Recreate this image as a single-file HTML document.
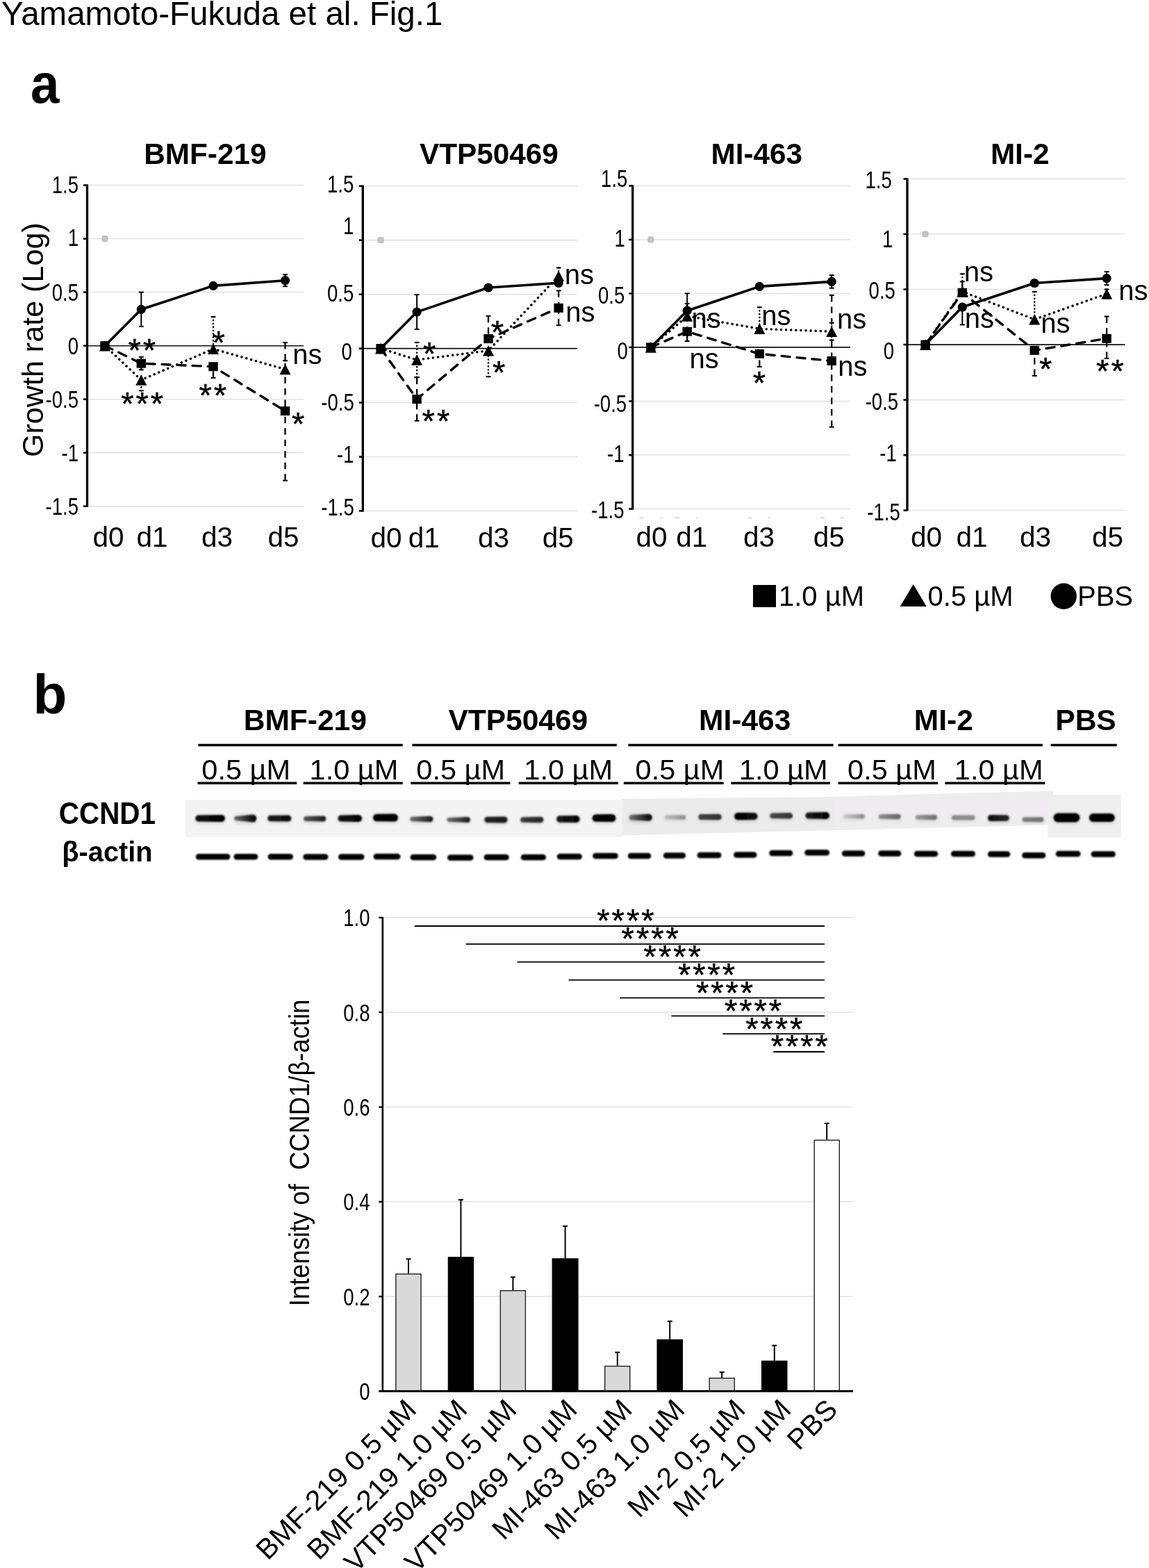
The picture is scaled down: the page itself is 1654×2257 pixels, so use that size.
<!DOCTYPE html>
<html><head><meta charset="utf-8"><title>Yamamoto-Fukuda et al. Fig.1</title>
<style>
html,body{margin:0;padding:0;background:#fff;}
body{width:1654px;height:2257px;overflow:hidden;}
svg{display:block;}
text{font-family:"Liberation Sans",Arial,sans-serif;fill:#000;}
</style></head>
<body>
<svg width="1654" height="2257" viewBox="0 0 1654 2257">
<rect width="1654" height="2257" fill="#fff"/>
<text x="2.0" y="35.5" font-size="47.5" text-anchor="start" >Yamamoto-Fukuda et al. Fig.1</text>
<text transform="translate(44,148) scale(0.93,1)" font-size="80" font-weight="bold">a</text>
<text transform="translate(47.5,1027) scale(1,1)" font-size="80" font-weight="bold">b</text>
<line x1="127.5" y1="266.6" x2="437" y2="266.6" stroke="#e3e1e3" stroke-width="1.5"/>
<line x1="127.5" y1="343.6" x2="437" y2="343.6" stroke="#e3e1e3" stroke-width="1.5"/>
<line x1="127.5" y1="420.6" x2="437" y2="420.6" stroke="#e3e1e3" stroke-width="1.5"/>
<line x1="127.5" y1="574.7" x2="437" y2="574.7" stroke="#e3e1e3" stroke-width="1.5"/>
<line x1="127.5" y1="651.7" x2="437" y2="651.7" stroke="#e3e1e3" stroke-width="1.5"/>
<line x1="127.5" y1="728.7" x2="437" y2="728.7" stroke="#e3e1e3" stroke-width="1.5"/>
<line x1="125.5" y1="497.7" x2="437" y2="497.7" stroke="#111" stroke-width="1.6"/>
<line x1="125.5" y1="265.6" x2="125.5" y2="729.7" stroke="#000" stroke-width="3.3"/>
<line x1="120.0" y1="266.6" x2="125.5" y2="266.6" stroke="#000" stroke-width="2.6"/>
<text transform="translate(113.0,278.4) scale(0.778,1)" font-size="35.4" text-anchor="end" >1.5</text>
<line x1="120.0" y1="343.6" x2="125.5" y2="343.6" stroke="#000" stroke-width="2.6"/>
<text transform="translate(113.0,354.3) scale(0.778,1)" font-size="35.4" text-anchor="end" >1</text>
<line x1="120.0" y1="420.6" x2="125.5" y2="420.6" stroke="#000" stroke-width="2.6"/>
<text transform="translate(113.0,433.0) scale(0.778,1)" font-size="35.4" text-anchor="end" >0.5</text>
<line x1="120.0" y1="497.7" x2="125.5" y2="497.7" stroke="#000" stroke-width="2.6"/>
<text transform="translate(113.0,510.1) scale(0.778,1)" font-size="35.4" text-anchor="end" >0</text>
<line x1="120.0" y1="574.7" x2="125.5" y2="574.7" stroke="#000" stroke-width="2.6"/>
<text transform="translate(113.0,587.1) scale(0.778,1)" font-size="35.4" text-anchor="end" >-0.5</text>
<line x1="120.0" y1="651.7" x2="125.5" y2="651.7" stroke="#000" stroke-width="2.6"/>
<text transform="translate(113.0,664.1) scale(0.778,1)" font-size="35.4" text-anchor="end" >-1</text>
<line x1="120.0" y1="728.7" x2="125.5" y2="728.7" stroke="#000" stroke-width="2.6"/>
<text transform="translate(113.0,741.1) scale(0.778,1)" font-size="35.4" text-anchor="end" >-1.5</text>
<text x="295.4" y="235.8" font-size="42.3" font-weight="bold" text-anchor="middle" >BMF-219</text>
<rect x="147.0" y="339.6" width="8" height="8" rx="2" fill="#c4c4c4" stroke="#b8aca4" stroke-width="0.8"/>
<path d="M151.0,497.7 L203.3,523.1 L307.0,527.7 L410.5,591.6" fill="none" stroke="#000" stroke-width="3.4" stroke-dasharray="12 10" stroke-linecap="round" stroke-linejoin="round"/>
<line x1="203.3" y1="513.8" x2="203.3" y2="523.1" stroke="#000" stroke-width="2.3" stroke-dasharray="9.5 7"/>
<line x1="199.8" y1="513.8" x2="206.8" y2="513.8" stroke="#000" stroke-width="2"/>
<line x1="203.3" y1="532.3" x2="203.3" y2="523.1" stroke="#000" stroke-width="2.3" stroke-dasharray="9.5 7"/>
<line x1="199.8" y1="532.3" x2="206.8" y2="532.3" stroke="#000" stroke-width="2"/>
<line x1="307.0" y1="543.9" x2="307.0" y2="527.7" stroke="#000" stroke-width="2.3" stroke-dasharray="9.5 7"/>
<line x1="303.5" y1="543.9" x2="310.5" y2="543.9" stroke="#000" stroke-width="2"/>
<line x1="410.5" y1="493.0" x2="410.5" y2="591.6" stroke="#000" stroke-width="2.3" stroke-dasharray="9.5 7"/>
<line x1="407.0" y1="493.0" x2="414.0" y2="493.0" stroke="#000" stroke-width="2"/>
<line x1="410.5" y1="691.7" x2="410.5" y2="591.6" stroke="#000" stroke-width="2.3" stroke-dasharray="9.5 7"/>
<line x1="407.0" y1="691.7" x2="414.0" y2="691.7" stroke="#000" stroke-width="2"/>
<path d="M151.0,497.7 L203.3,546.9 L307.0,502.3 L410.5,531.5" fill="none" stroke="#000" stroke-width="3.5" stroke-dasharray="0.1 7" stroke-linecap="round" stroke-linejoin="round"/>
<line x1="203.3" y1="562.3" x2="203.3" y2="546.9" stroke="#000" stroke-width="2.6" stroke-dasharray="0.1 4.8" stroke-linecap="round"/>
<line x1="199.8" y1="562.3" x2="206.8" y2="562.3" stroke="#000" stroke-width="2"/>
<line x1="307.0" y1="456.1" x2="307.0" y2="502.3" stroke="#000" stroke-width="2.6" stroke-dasharray="0.1 4.8" stroke-linecap="round"/>
<line x1="303.5" y1="456.1" x2="310.5" y2="456.1" stroke="#000" stroke-width="2"/>
<line x1="410.5" y1="519.2" x2="410.5" y2="531.5" stroke="#000" stroke-width="2.6" stroke-dasharray="0.1 4.8" stroke-linecap="round"/>
<line x1="407.0" y1="519.2" x2="414.0" y2="519.2" stroke="#000" stroke-width="2"/>
<path d="M151.0,497.7 L203.3,445.3 L307.0,411.4 L410.5,403.7" fill="none" stroke="#000" stroke-width="3.6" stroke-linejoin="round"/>
<line x1="203.3" y1="420.6" x2="203.3" y2="445.3" stroke="#000" stroke-width="2.0"/>
<line x1="199.8" y1="420.6" x2="206.8" y2="420.6" stroke="#000" stroke-width="2"/>
<line x1="203.3" y1="469.9" x2="203.3" y2="445.3" stroke="#000" stroke-width="2.0"/>
<line x1="199.8" y1="469.9" x2="206.8" y2="469.9" stroke="#000" stroke-width="2"/>
<line x1="307.0" y1="408.3" x2="307.0" y2="411.4" stroke="#000" stroke-width="2.0"/>
<line x1="303.5" y1="408.3" x2="310.5" y2="408.3" stroke="#000" stroke-width="2"/>
<line x1="307.0" y1="414.5" x2="307.0" y2="411.4" stroke="#000" stroke-width="2.0"/>
<line x1="303.5" y1="414.5" x2="310.5" y2="414.5" stroke="#000" stroke-width="2"/>
<line x1="410.5" y1="395.2" x2="410.5" y2="403.7" stroke="#000" stroke-width="2.0"/>
<line x1="407.0" y1="395.2" x2="414.0" y2="395.2" stroke="#000" stroke-width="2"/>
<line x1="410.5" y1="412.2" x2="410.5" y2="403.7" stroke="#000" stroke-width="2.0"/>
<line x1="407.0" y1="412.2" x2="414.0" y2="412.2" stroke="#000" stroke-width="2"/>
<rect x="144.3" y="491.2" width="13.4" height="13" fill="#000"/>
<rect x="196.6" y="516.6" width="13.4" height="13" fill="#000"/>
<rect x="300.3" y="521.2" width="13.4" height="13" fill="#000"/>
<rect x="403.8" y="585.1" width="13.4" height="13" fill="#000"/>
<path d="M151.0,489.9 L159.0,505.5 L143.0,505.5 Z" fill="#000"/>
<path d="M203.3,539.1 L211.3,554.7 L195.3,554.7 Z" fill="#000"/>
<path d="M307.0,494.5 L315.0,510.1 L299.0,510.1 Z" fill="#000"/>
<path d="M410.5,523.7 L418.5,539.3 L402.5,539.3 Z" fill="#000"/>
<circle cx="151.0" cy="497.7" r="6.6" fill="#000"/>
<circle cx="203.3" cy="445.3" r="6.6" fill="#000"/>
<circle cx="307.0" cy="411.4" r="6.6" fill="#000"/>
<circle cx="410.5" cy="403.7" r="6.6" fill="#000"/>
<text x="184.5" y="520.2" font-size="47" letter-spacing="3" stroke="#000" stroke-width="0.5">**</text>
<text x="174.2" y="597.2" font-size="47" letter-spacing="3" stroke="#000" stroke-width="0.5">***</text>
<text x="305.5" y="509.1" font-size="47" letter-spacing="3" stroke="#000" stroke-width="0.5">*</text>
<text x="286.5" y="584.8" font-size="47" letter-spacing="3" stroke="#000" stroke-width="0.5">**</text>
<text x="421.2" y="524.1" font-size="40" text-anchor="start" >ns</text>
<text x="419.9" y="625.6" font-size="47" letter-spacing="3" stroke="#000" stroke-width="0.5">*</text>
<line x1="524.3" y1="267.8" x2="831" y2="267.8" stroke="#e3e1e3" stroke-width="1.5"/>
<line x1="524.3" y1="345.7" x2="831" y2="345.7" stroke="#e3e1e3" stroke-width="1.5"/>
<line x1="524.3" y1="423.7" x2="831" y2="423.7" stroke="#e3e1e3" stroke-width="1.5"/>
<line x1="524.3" y1="579.5" x2="831" y2="579.5" stroke="#e3e1e3" stroke-width="1.5"/>
<line x1="524.3" y1="657.5" x2="831" y2="657.5" stroke="#e3e1e3" stroke-width="1.5"/>
<line x1="524.3" y1="735.4" x2="831" y2="735.4" stroke="#e3e1e3" stroke-width="1.5"/>
<line x1="522.3" y1="501.6" x2="831" y2="501.6" stroke="#111" stroke-width="1.6"/>
<line x1="522.3" y1="266.8" x2="522.3" y2="736.4" stroke="#000" stroke-width="3.3"/>
<line x1="516.8" y1="267.8" x2="522.3" y2="267.8" stroke="#000" stroke-width="2.6"/>
<text transform="translate(509.3,277.4) scale(0.778,1)" font-size="35.4" text-anchor="end" >1.5</text>
<line x1="516.8" y1="345.7" x2="522.3" y2="345.7" stroke="#000" stroke-width="2.6"/>
<text transform="translate(509.3,337.1) scale(0.778,1)" font-size="35.4" text-anchor="end" >1</text>
<line x1="516.8" y1="423.7" x2="522.3" y2="423.7" stroke="#000" stroke-width="2.6"/>
<text transform="translate(509.3,433.9) scale(0.778,1)" font-size="35.4" text-anchor="end" >0.5</text>
<line x1="516.8" y1="501.6" x2="522.3" y2="501.6" stroke="#000" stroke-width="2.6"/>
<text transform="translate(506.8,517.8) scale(0.778,1)" font-size="35.4" text-anchor="end" >0</text>
<line x1="516.8" y1="579.5" x2="522.3" y2="579.5" stroke="#000" stroke-width="2.6"/>
<text transform="translate(509.8,590.7) scale(0.778,1)" font-size="35.4" text-anchor="end" >-0.5</text>
<line x1="516.8" y1="657.5" x2="522.3" y2="657.5" stroke="#000" stroke-width="2.6"/>
<text transform="translate(509.2,666.0) scale(0.778,1)" font-size="35.4" text-anchor="end" >-1</text>
<line x1="516.8" y1="735.4" x2="522.3" y2="735.4" stroke="#000" stroke-width="2.6"/>
<text transform="translate(509.8,741.8) scale(0.778,1)" font-size="35.4" text-anchor="end" >-1.5</text>
<text x="703.9" y="235.8" font-size="42.3" font-weight="bold" text-anchor="middle" >VTP50469</text>
<rect x="544.1" y="341.7" width="8" height="8" rx="2" fill="#c4c4c4" stroke="#b8aca4" stroke-width="0.8"/>
<path d="M548.1,501.6 L600.1,574.5 L703.0,487.6 L804.1,443.3" fill="none" stroke="#000" stroke-width="3.4" stroke-dasharray="12 10" stroke-linecap="round" stroke-linejoin="round"/>
<line x1="600.1" y1="543.4" x2="600.1" y2="574.5" stroke="#000" stroke-width="2.3" stroke-dasharray="9.5 7"/>
<line x1="596.6" y1="543.4" x2="603.6" y2="543.4" stroke="#000" stroke-width="2"/>
<line x1="600.1" y1="605.7" x2="600.1" y2="574.5" stroke="#000" stroke-width="2.3" stroke-dasharray="9.5 7"/>
<line x1="596.6" y1="605.7" x2="603.6" y2="605.7" stroke="#000" stroke-width="2"/>
<line x1="703.0" y1="454.8" x2="703.0" y2="487.6" stroke="#000" stroke-width="2.3" stroke-dasharray="9.5 7"/>
<line x1="699.5" y1="454.8" x2="706.5" y2="454.8" stroke="#000" stroke-width="2"/>
<line x1="804.1" y1="418.4" x2="804.1" y2="443.3" stroke="#000" stroke-width="2.3" stroke-dasharray="9.5 7"/>
<line x1="800.6" y1="418.4" x2="807.6" y2="418.4" stroke="#000" stroke-width="2"/>
<line x1="804.1" y1="468.2" x2="804.1" y2="443.3" stroke="#000" stroke-width="2.3" stroke-dasharray="9.5 7"/>
<line x1="800.6" y1="468.2" x2="807.6" y2="468.2" stroke="#000" stroke-width="2"/>
<path d="M548.1,501.6 L600.1,518.0 L703.0,504.7 L804.1,397.2" fill="none" stroke="#000" stroke-width="3.5" stroke-dasharray="0.1 7" stroke-linecap="round" stroke-linejoin="round"/>
<line x1="600.1" y1="493.0" x2="600.1" y2="518.0" stroke="#000" stroke-width="2.6" stroke-dasharray="0.1 4.8" stroke-linecap="round"/>
<line x1="596.6" y1="493.0" x2="603.6" y2="493.0" stroke="#000" stroke-width="2"/>
<line x1="600.1" y1="542.9" x2="600.1" y2="518.0" stroke="#000" stroke-width="2.6" stroke-dasharray="0.1 4.8" stroke-linecap="round"/>
<line x1="596.6" y1="542.9" x2="603.6" y2="542.9" stroke="#000" stroke-width="2"/>
<line x1="703.0" y1="542.1" x2="703.0" y2="504.7" stroke="#000" stroke-width="2.6" stroke-dasharray="0.1 4.8" stroke-linecap="round"/>
<line x1="699.5" y1="542.1" x2="706.5" y2="542.1" stroke="#000" stroke-width="2"/>
<line x1="804.1" y1="385.5" x2="804.1" y2="397.2" stroke="#000" stroke-width="2.6" stroke-dasharray="0.1 4.8" stroke-linecap="round"/>
<line x1="800.6" y1="385.5" x2="807.6" y2="385.5" stroke="#000" stroke-width="2"/>
<line x1="804.1" y1="408.9" x2="804.1" y2="397.2" stroke="#000" stroke-width="2.6" stroke-dasharray="0.1 4.8" stroke-linecap="round"/>
<line x1="800.6" y1="408.9" x2="807.6" y2="408.9" stroke="#000" stroke-width="2"/>
<path d="M548.1,501.6 L600.1,449.1 L703.0,414.0 L804.1,407.3" fill="none" stroke="#000" stroke-width="3.6" stroke-linejoin="round"/>
<line x1="600.1" y1="424.1" x2="600.1" y2="449.1" stroke="#000" stroke-width="2.0"/>
<line x1="596.6" y1="424.1" x2="603.6" y2="424.1" stroke="#000" stroke-width="2"/>
<line x1="600.1" y1="474.0" x2="600.1" y2="449.1" stroke="#000" stroke-width="2.0"/>
<line x1="596.6" y1="474.0" x2="603.6" y2="474.0" stroke="#000" stroke-width="2"/>
<line x1="703.0" y1="410.9" x2="703.0" y2="414.0" stroke="#000" stroke-width="2.0"/>
<line x1="699.5" y1="410.9" x2="706.5" y2="410.9" stroke="#000" stroke-width="2"/>
<line x1="703.0" y1="417.1" x2="703.0" y2="414.0" stroke="#000" stroke-width="2.0"/>
<line x1="699.5" y1="417.1" x2="706.5" y2="417.1" stroke="#000" stroke-width="2"/>
<line x1="804.1" y1="402.6" x2="804.1" y2="407.3" stroke="#000" stroke-width="2.0"/>
<line x1="800.6" y1="402.6" x2="807.6" y2="402.6" stroke="#000" stroke-width="2"/>
<line x1="804.1" y1="412.0" x2="804.1" y2="407.3" stroke="#000" stroke-width="2.0"/>
<line x1="800.6" y1="412.0" x2="807.6" y2="412.0" stroke="#000" stroke-width="2"/>
<rect x="541.4" y="495.1" width="13.4" height="13" fill="#000"/>
<rect x="593.4" y="568.0" width="13.4" height="13" fill="#000"/>
<rect x="696.3" y="481.1" width="13.4" height="13" fill="#000"/>
<rect x="797.4" y="436.8" width="13.4" height="13" fill="#000"/>
<path d="M548.1,493.8 L556.1,509.4 L540.1,509.4 Z" fill="#000"/>
<path d="M600.1,510.2 L608.1,525.8 L592.1,525.8 Z" fill="#000"/>
<path d="M703.0,496.9 L711.0,512.5 L695.0,512.5 Z" fill="#000"/>
<path d="M804.1,389.4 L812.1,405.0 L796.1,405.0 Z" fill="#000"/>
<circle cx="548.1" cy="501.6" r="6.6" fill="#000"/>
<circle cx="600.1" cy="449.1" r="6.6" fill="#000"/>
<circle cx="703.0" cy="414.0" r="6.6" fill="#000"/>
<circle cx="804.1" cy="407.3" r="6.6" fill="#000"/>
<text x="608.9" y="525.2" font-size="47" letter-spacing="3" stroke="#000" stroke-width="0.5">*</text>
<text x="607.6" y="621.9" font-size="47" letter-spacing="3" stroke="#000" stroke-width="0.5">**</text>
<text x="706.7" y="494.2" font-size="47" letter-spacing="3" stroke="#000" stroke-width="0.5">*</text>
<text x="709.1" y="552.2" font-size="47" letter-spacing="3" stroke="#000" stroke-width="0.5">*</text>
<text x="812.7" y="408.6" font-size="40" text-anchor="start" >ns</text>
<text x="814.3" y="463.2" font-size="40" text-anchor="start" >ns</text>
<line x1="912.7" y1="267.4" x2="1224" y2="267.4" stroke="#e3e1e3" stroke-width="1.5"/>
<line x1="912.7" y1="344.9" x2="1224" y2="344.9" stroke="#e3e1e3" stroke-width="1.5"/>
<line x1="912.7" y1="422.4" x2="1224" y2="422.4" stroke="#e3e1e3" stroke-width="1.5"/>
<line x1="912.7" y1="577.5" x2="1224" y2="577.5" stroke="#e3e1e3" stroke-width="1.5"/>
<line x1="912.7" y1="655.0" x2="1224" y2="655.0" stroke="#e3e1e3" stroke-width="1.5"/>
<line x1="912.7" y1="732.5" x2="1224" y2="732.5" stroke="#e3e1e3" stroke-width="1.5"/>
<line x1="910.7" y1="499.9" x2="1224" y2="499.9" stroke="#111" stroke-width="1.6"/>
<line x1="910.7" y1="266.4" x2="910.7" y2="733.5" stroke="#000" stroke-width="3.3"/>
<line x1="905.2" y1="267.4" x2="910.7" y2="267.4" stroke="#000" stroke-width="2.6"/>
<text transform="translate(903.4,269.2) scale(0.778,1)" font-size="35.4" text-anchor="end" >1.5</text>
<line x1="905.2" y1="344.9" x2="910.7" y2="344.9" stroke="#000" stroke-width="2.6"/>
<text transform="translate(899.9,354.7) scale(0.778,1)" font-size="35.4" text-anchor="end" >1</text>
<line x1="905.2" y1="422.4" x2="910.7" y2="422.4" stroke="#000" stroke-width="2.6"/>
<text transform="translate(899.3,437.1) scale(0.778,1)" font-size="35.4" text-anchor="end" >0.5</text>
<line x1="905.2" y1="499.9" x2="910.7" y2="499.9" stroke="#000" stroke-width="2.6"/>
<text transform="translate(903.9,517.4) scale(0.778,1)" font-size="35.4" text-anchor="end" >0</text>
<line x1="905.2" y1="577.5" x2="910.7" y2="577.5" stroke="#000" stroke-width="2.6"/>
<text transform="translate(902.1,592.9) scale(0.778,1)" font-size="35.4" text-anchor="end" >-0.5</text>
<line x1="905.2" y1="655.0" x2="910.7" y2="655.0" stroke="#000" stroke-width="2.6"/>
<text transform="translate(898.5,665.4) scale(0.778,1)" font-size="35.4" text-anchor="end" >-1</text>
<line x1="905.2" y1="732.5" x2="910.7" y2="732.5" stroke="#000" stroke-width="2.6"/>
<text transform="translate(898.5,745.9) scale(0.778,1)" font-size="35.4" text-anchor="end" >-1.5</text>
<text x="1089.3" y="235.8" font-size="42.3" font-weight="bold" text-anchor="middle" >MI-463</text>
<rect x="932.8" y="340.9" width="8" height="8" rx="2" fill="#c4c4c4" stroke="#b8aca4" stroke-width="0.8"/>
<path d="M936.8,499.9 L989.2,477.2 L1093.3,509.3 L1197.2,519.5" fill="none" stroke="#000" stroke-width="3.4" stroke-dasharray="12 10" stroke-linecap="round" stroke-linejoin="round"/>
<line x1="989.2" y1="436.9" x2="989.2" y2="477.2" stroke="#000" stroke-width="2.3" stroke-dasharray="9.5 7"/>
<line x1="985.7" y1="436.9" x2="992.7" y2="436.9" stroke="#000" stroke-width="2"/>
<line x1="989.2" y1="491.1" x2="989.2" y2="477.2" stroke="#000" stroke-width="2.3" stroke-dasharray="9.5 7"/>
<line x1="985.7" y1="491.1" x2="992.7" y2="491.1" stroke="#000" stroke-width="2"/>
<line x1="1093.3" y1="527.9" x2="1093.3" y2="509.3" stroke="#000" stroke-width="2.3" stroke-dasharray="9.5 7"/>
<line x1="1089.8" y1="527.9" x2="1096.8" y2="527.9" stroke="#000" stroke-width="2"/>
<line x1="1197.2" y1="424.9" x2="1197.2" y2="519.5" stroke="#000" stroke-width="2.3" stroke-dasharray="9.5 7"/>
<line x1="1193.7" y1="424.9" x2="1200.7" y2="424.9" stroke="#000" stroke-width="2"/>
<line x1="1197.2" y1="614.7" x2="1197.2" y2="519.5" stroke="#000" stroke-width="2.3" stroke-dasharray="9.5 7"/>
<line x1="1193.7" y1="614.7" x2="1200.7" y2="614.7" stroke="#000" stroke-width="2"/>
<path d="M936.8,499.9 L989.2,455.0 L1093.3,473.3 L1197.2,477.2" fill="none" stroke="#000" stroke-width="3.5" stroke-dasharray="0.1 7" stroke-linecap="round" stroke-linejoin="round"/>
<line x1="1093.3" y1="442.3" x2="1093.3" y2="473.3" stroke="#000" stroke-width="2.6" stroke-dasharray="0.1 4.8" stroke-linecap="round"/>
<line x1="1089.8" y1="442.3" x2="1096.8" y2="442.3" stroke="#000" stroke-width="2"/>
<line x1="1197.2" y1="464.8" x2="1197.2" y2="477.2" stroke="#000" stroke-width="2.6" stroke-dasharray="0.1 4.8" stroke-linecap="round"/>
<line x1="1193.7" y1="464.8" x2="1200.7" y2="464.8" stroke="#000" stroke-width="2"/>
<line x1="1197.2" y1="489.6" x2="1197.2" y2="477.2" stroke="#000" stroke-width="2.6" stroke-dasharray="0.1 4.8" stroke-linecap="round"/>
<line x1="1193.7" y1="489.6" x2="1200.7" y2="489.6" stroke="#000" stroke-width="2"/>
<path d="M936.8,499.9 L989.2,447.2 L1093.3,412.4 L1197.2,405.4" fill="none" stroke="#000" stroke-width="3.6" stroke-linejoin="round"/>
<line x1="989.2" y1="422.4" x2="989.2" y2="447.2" stroke="#000" stroke-width="2.0"/>
<line x1="985.7" y1="422.4" x2="992.7" y2="422.4" stroke="#000" stroke-width="2"/>
<line x1="1093.3" y1="409.3" x2="1093.3" y2="412.4" stroke="#000" stroke-width="2.0"/>
<line x1="1089.8" y1="409.3" x2="1096.8" y2="409.3" stroke="#000" stroke-width="2"/>
<line x1="1093.3" y1="415.5" x2="1093.3" y2="412.4" stroke="#000" stroke-width="2.0"/>
<line x1="1089.8" y1="415.5" x2="1096.8" y2="415.5" stroke="#000" stroke-width="2"/>
<line x1="1197.2" y1="396.1" x2="1197.2" y2="405.4" stroke="#000" stroke-width="2.0"/>
<line x1="1193.7" y1="396.1" x2="1200.7" y2="396.1" stroke="#000" stroke-width="2"/>
<line x1="1197.2" y1="414.7" x2="1197.2" y2="405.4" stroke="#000" stroke-width="2.0"/>
<line x1="1193.7" y1="414.7" x2="1200.7" y2="414.7" stroke="#000" stroke-width="2"/>
<rect x="930.1" y="493.4" width="13.4" height="13" fill="#000"/>
<rect x="982.5" y="470.7" width="13.4" height="13" fill="#000"/>
<rect x="1086.6" y="502.8" width="13.4" height="13" fill="#000"/>
<rect x="1190.5" y="513.0" width="13.4" height="13" fill="#000"/>
<path d="M936.8,492.1 L944.8,507.8 L928.8,507.8 Z" fill="#000"/>
<path d="M989.2,447.2 L997.2,462.8 L981.2,462.8 Z" fill="#000"/>
<path d="M1093.3,465.5 L1101.3,481.1 L1085.3,481.1 Z" fill="#000"/>
<path d="M1197.2,469.4 L1205.2,485.0 L1189.2,485.0 Z" fill="#000"/>
<circle cx="936.8" cy="499.9" r="6.6" fill="#000"/>
<circle cx="989.2" cy="447.2" r="6.6" fill="#000"/>
<circle cx="1093.3" cy="412.4" r="6.6" fill="#000"/>
<circle cx="1197.2" cy="405.4" r="6.6" fill="#000"/>
<text x="995.5" y="472.3" font-size="40" text-anchor="start" >ns</text>
<text x="992.4" y="529.6" font-size="40" text-anchor="start" >ns</text>
<text x="1096.2" y="468.0" font-size="40" text-anchor="start" >ns</text>
<text x="1083.8" y="566.9" font-size="47" letter-spacing="3" stroke="#000" stroke-width="0.5">*</text>
<text x="1204.9" y="473.2" font-size="40" text-anchor="start" >ns</text>
<text x="1206.2" y="540.8" font-size="40" text-anchor="start" >ns</text>
<line x1="1308.0" y1="257.5" x2="1619.5" y2="257.5" stroke="#e3e1e3" stroke-width="1.5"/>
<line x1="1308.0" y1="337.0" x2="1619.5" y2="337.0" stroke="#e3e1e3" stroke-width="1.5"/>
<line x1="1308.0" y1="416.5" x2="1619.5" y2="416.5" stroke="#e3e1e3" stroke-width="1.5"/>
<line x1="1308.0" y1="575.6" x2="1619.5" y2="575.6" stroke="#e3e1e3" stroke-width="1.5"/>
<line x1="1308.0" y1="655.1" x2="1619.5" y2="655.1" stroke="#e3e1e3" stroke-width="1.5"/>
<line x1="1308.0" y1="734.6" x2="1619.5" y2="734.6" stroke="#e3e1e3" stroke-width="1.5"/>
<line x1="1306.0" y1="496.1" x2="1619.5" y2="496.1" stroke="#111" stroke-width="1.6"/>
<line x1="1306.0" y1="256.5" x2="1306.0" y2="735.6" stroke="#000" stroke-width="3.3"/>
<line x1="1300.5" y1="257.5" x2="1306.0" y2="257.5" stroke="#000" stroke-width="2.6"/>
<text transform="translate(1283.8,270.9) scale(0.778,1)" font-size="35.4" text-anchor="end" >1.5</text>
<line x1="1300.5" y1="337.0" x2="1306.0" y2="337.0" stroke="#000" stroke-width="2.6"/>
<text transform="translate(1285.3,356.4) scale(0.778,1)" font-size="35.4" text-anchor="end" >1</text>
<line x1="1300.5" y1="416.5" x2="1306.0" y2="416.5" stroke="#000" stroke-width="2.6"/>
<text transform="translate(1288.9,429.9) scale(0.778,1)" font-size="35.4" text-anchor="end" >0.5</text>
<line x1="1300.5" y1="496.1" x2="1306.0" y2="496.1" stroke="#000" stroke-width="2.6"/>
<text transform="translate(1287.1,516.9) scale(0.778,1)" font-size="35.4" text-anchor="end" >0</text>
<line x1="1300.5" y1="575.6" x2="1306.0" y2="575.6" stroke="#000" stroke-width="2.6"/>
<text transform="translate(1293.1,589.7) scale(0.778,1)" font-size="35.4" text-anchor="end" >-0.5</text>
<line x1="1300.5" y1="655.1" x2="1306.0" y2="655.1" stroke="#000" stroke-width="2.6"/>
<text transform="translate(1290.7,664.2) scale(0.778,1)" font-size="35.4" text-anchor="end" >-1</text>
<line x1="1300.5" y1="734.6" x2="1306.0" y2="734.6" stroke="#000" stroke-width="2.6"/>
<text transform="translate(1295.8,749.0) scale(0.778,1)" font-size="35.4" text-anchor="end" >-1.5</text>
<text x="1468.2" y="235.8" font-size="42.3" font-weight="bold" text-anchor="middle" >MI-2</text>
<rect x="1328.1" y="333.0" width="8" height="8" rx="2" fill="#c4c4c4" stroke="#b8aca4" stroke-width="0.8"/>
<path d="M1332.1,496.1 L1385.3,421.3 L1489.2,504.3 L1593.1,487.3" fill="none" stroke="#000" stroke-width="3.4" stroke-dasharray="12 10" stroke-linecap="round" stroke-linejoin="round"/>
<line x1="1385.3" y1="405.4" x2="1385.3" y2="421.3" stroke="#000" stroke-width="2.3" stroke-dasharray="9.5 7"/>
<line x1="1381.8" y1="405.4" x2="1388.8" y2="405.4" stroke="#000" stroke-width="2"/>
<line x1="1489.2" y1="540.9" x2="1489.2" y2="504.3" stroke="#000" stroke-width="2.3" stroke-dasharray="9.5 7"/>
<line x1="1485.7" y1="540.9" x2="1492.7" y2="540.9" stroke="#000" stroke-width="2"/>
<line x1="1593.1" y1="455.5" x2="1593.1" y2="487.3" stroke="#000" stroke-width="2.3" stroke-dasharray="9.5 7"/>
<line x1="1589.6" y1="455.5" x2="1596.6" y2="455.5" stroke="#000" stroke-width="2"/>
<line x1="1593.1" y1="515.9" x2="1593.1" y2="487.3" stroke="#000" stroke-width="2.3" stroke-dasharray="9.5 7"/>
<line x1="1589.6" y1="515.9" x2="1596.6" y2="515.9" stroke="#000" stroke-width="2"/>
<path d="M1332.1,496.1 L1385.3,419.7 L1489.2,459.8 L1593.1,422.9" fill="none" stroke="#000" stroke-width="3.5" stroke-dasharray="0.1 7" stroke-linecap="round" stroke-linejoin="round"/>
<line x1="1385.3" y1="394.3" x2="1385.3" y2="419.7" stroke="#000" stroke-width="2.6" stroke-dasharray="0.1 4.8" stroke-linecap="round"/>
<line x1="1381.8" y1="394.3" x2="1388.8" y2="394.3" stroke="#000" stroke-width="2"/>
<line x1="1489.2" y1="420.0" x2="1489.2" y2="459.8" stroke="#000" stroke-width="2.6" stroke-dasharray="0.1 4.8" stroke-linecap="round"/>
<line x1="1485.7" y1="420.0" x2="1492.7" y2="420.0" stroke="#000" stroke-width="2"/>
<line x1="1593.1" y1="416.5" x2="1593.1" y2="422.9" stroke="#000" stroke-width="2.6" stroke-dasharray="0.1 4.8" stroke-linecap="round"/>
<line x1="1589.6" y1="416.5" x2="1596.6" y2="416.5" stroke="#000" stroke-width="2"/>
<path d="M1332.1,496.1 L1385.3,442.0 L1489.2,407.5 L1593.1,400.6" fill="none" stroke="#000" stroke-width="3.6" stroke-linejoin="round"/>
<line x1="1385.3" y1="467.4" x2="1385.3" y2="442.0" stroke="#000" stroke-width="2.0"/>
<line x1="1381.8" y1="467.4" x2="1388.8" y2="467.4" stroke="#000" stroke-width="2"/>
<line x1="1489.2" y1="404.3" x2="1489.2" y2="407.5" stroke="#000" stroke-width="2.0"/>
<line x1="1485.7" y1="404.3" x2="1492.7" y2="404.3" stroke="#000" stroke-width="2"/>
<line x1="1489.2" y1="410.6" x2="1489.2" y2="407.5" stroke="#000" stroke-width="2.0"/>
<line x1="1485.7" y1="410.6" x2="1492.7" y2="410.6" stroke="#000" stroke-width="2"/>
<line x1="1593.1" y1="391.1" x2="1593.1" y2="400.6" stroke="#000" stroke-width="2.0"/>
<line x1="1589.6" y1="391.1" x2="1596.6" y2="391.1" stroke="#000" stroke-width="2"/>
<line x1="1593.1" y1="410.2" x2="1593.1" y2="400.6" stroke="#000" stroke-width="2.0"/>
<line x1="1589.6" y1="410.2" x2="1596.6" y2="410.2" stroke="#000" stroke-width="2"/>
<rect x="1325.4" y="489.6" width="13.4" height="13" fill="#000"/>
<rect x="1378.6" y="414.8" width="13.4" height="13" fill="#000"/>
<rect x="1482.5" y="497.8" width="13.4" height="13" fill="#000"/>
<rect x="1586.4" y="480.8" width="13.4" height="13" fill="#000"/>
<path d="M1332.1,488.2 L1340.1,503.9 L1324.1,503.9 Z" fill="#000"/>
<path d="M1385.3,411.9 L1393.3,427.5 L1377.3,427.5 Z" fill="#000"/>
<path d="M1489.2,452.0 L1497.2,467.6 L1481.2,467.6 Z" fill="#000"/>
<path d="M1593.1,415.1 L1601.1,430.7 L1585.1,430.7 Z" fill="#000"/>
<circle cx="1332.1" cy="496.1" r="6.6" fill="#000"/>
<circle cx="1385.3" cy="442.0" r="6.6" fill="#000"/>
<circle cx="1489.2" cy="407.5" r="6.6" fill="#000"/>
<circle cx="1593.1" cy="400.6" r="6.6" fill="#000"/>
<text x="1387.7" y="404.8" font-size="40" text-anchor="start" >ns</text>
<text x="1388.7" y="471.5" font-size="40" text-anchor="start" >ns</text>
<text x="1498.2" y="479.4" font-size="40" text-anchor="start" >ns</text>
<text x="1496.1" y="546.9" font-size="47" letter-spacing="3" stroke="#000" stroke-width="0.5">*</text>
<text x="1578.1" y="549.9" font-size="47" letter-spacing="3" stroke="#000" stroke-width="0.5">**</text>
<text x="1610.2" y="432.0" font-size="40" text-anchor="start" >ns</text>
<text x="133.6" y="786.5" font-size="40.5" text-anchor="start" >d0</text>
<text x="196.4" y="786.5" font-size="40.5" text-anchor="start" >d1</text>
<text x="290.0" y="786.5" font-size="40.5" text-anchor="start" >d3</text>
<text x="385.4" y="786.5" font-size="40.5" text-anchor="start" >d5</text>
<text x="533.6" y="788.0" font-size="40.5" text-anchor="start" >d0</text>
<text x="587.7" y="788.0" font-size="40.5" text-anchor="start" >d1</text>
<text x="688.0" y="788.0" font-size="40.5" text-anchor="start" >d3</text>
<text x="780.7" y="788.0" font-size="40.5" text-anchor="start" >d5</text>
<text x="915.6" y="786.5" font-size="40.5" text-anchor="start" >d0</text>
<text x="973.2" y="786.5" font-size="40.5" text-anchor="start" >d1</text>
<text x="1070.0" y="786.5" font-size="40.5" text-anchor="start" >d3</text>
<text x="1170.8" y="786.5" font-size="40.5" text-anchor="start" >d5</text>
<text x="1310.9" y="786.5" font-size="40.5" text-anchor="start" >d0</text>
<text x="1376.4" y="786.5" font-size="40.5" text-anchor="start" >d1</text>
<text x="1467.9" y="786.5" font-size="40.5" text-anchor="start" >d3</text>
<text x="1572.1" y="786.5" font-size="40.5" text-anchor="start" >d5</text>
<line x1="920.6" y1="745.4" x2="926.7" y2="745.4" stroke="#d6c6b4" stroke-width="1.2"/>
<line x1="950.4" y1="745.4" x2="953.5" y2="745.4" stroke="#d6c6b4" stroke-width="1.2"/>
<line x1="972" y1="745.4" x2="978.2" y2="745.4" stroke="#d6c6b4" stroke-width="1.2"/>
<line x1="1001.8" y1="745.4" x2="1003.9" y2="745.4" stroke="#d6c6b4" stroke-width="1.2"/>
<line x1="1077" y1="745.4" x2="1082" y2="745.4" stroke="#d6c6b4" stroke-width="1.2"/>
<line x1="1105.8" y1="745.4" x2="1108.8" y2="745.4" stroke="#d6c6b4" stroke-width="1.2"/>
<line x1="1180.9" y1="745.4" x2="1187" y2="745.4" stroke="#d6c6b4" stroke-width="1.2"/>
<line x1="1209.7" y1="745.4" x2="1214.8" y2="745.4" stroke="#d6c6b4" stroke-width="1.2"/>
<text transform="translate(62.3,658) rotate(-90)" font-size="43.1">Growth rate (Log)</text>
<rect x="1084" y="842" width="33" height="32" fill="#000"/>
<text x="1121.0" y="872.4" font-size="40" text-anchor="start" >1.0 µM</text>
<path d="M1314.7,841 L1333.7,873 L1295.7,873 Z" fill="#000"/>
<text x="1335.5" y="872.4" font-size="40" text-anchor="start" >0.5 µM</text>
<circle cx="1531.2" cy="858.2" r="18.7" fill="#000"/>
<text x="1551.0" y="872.4" font-size="40" text-anchor="start" >PBS</text>
<text x="439.3" y="1050.7" font-size="42.5" font-weight="bold" text-anchor="middle" >BMF-219</text>
<line x1="285.3" y1="1072.5" x2="579.7" y2="1072.5" stroke="#000" stroke-width="3.6"/>
<text x="745.8" y="1050.7" font-size="42.5" font-weight="bold" text-anchor="middle" >VTP50469</text>
<line x1="593.4" y1="1072.5" x2="887.8" y2="1072.5" stroke="#000" stroke-width="3.6"/>
<text x="1072.2" y="1050.7" font-size="42.5" font-weight="bold" text-anchor="middle" >MI-463</text>
<line x1="904.4" y1="1072.5" x2="1199.6" y2="1072.5" stroke="#000" stroke-width="3.6"/>
<text x="1358.3" y="1050.7" font-size="42.5" font-weight="bold" text-anchor="middle" >MI-2</text>
<line x1="1206.6" y1="1072.5" x2="1500.9" y2="1072.5" stroke="#000" stroke-width="3.6"/>
<text x="1563.0" y="1050.7" font-size="42.5" font-weight="bold" text-anchor="middle" >PBS</text>
<line x1="1512.6" y1="1072.5" x2="1607.7" y2="1072.5" stroke="#000" stroke-width="3.6"/>
<text x="354.2" y="1121.5" font-size="41.5" text-anchor="middle" >0.5 µM</text>
<line x1="284.5" y1="1127.2" x2="427.1" y2="1127.2" stroke="#000" stroke-width="3.6"/>
<text x="509.4" y="1121.5" font-size="41.5" text-anchor="middle" >1.0 µM</text>
<line x1="436.7" y1="1127.2" x2="579.7" y2="1127.2" stroke="#000" stroke-width="3.6"/>
<text x="663.2" y="1121.5" font-size="41.5" text-anchor="middle" >0.5 µM</text>
<line x1="591.1" y1="1127.2" x2="734.5" y2="1127.2" stroke="#000" stroke-width="3.6"/>
<text x="818.2" y="1121.5" font-size="41.5" text-anchor="middle" >1.0 µM</text>
<line x1="746.7" y1="1127.2" x2="889.8" y2="1127.2" stroke="#000" stroke-width="3.6"/>
<text x="978.4" y="1121.5" font-size="41.5" text-anchor="middle" >0.5 µM</text>
<line x1="897.8" y1="1127.2" x2="1041.7" y2="1127.2" stroke="#000" stroke-width="3.6"/>
<text x="1127.8" y="1121.5" font-size="41.5" text-anchor="middle" >1.0 µM</text>
<line x1="1052.4" y1="1127.2" x2="1194.9" y2="1127.2" stroke="#000" stroke-width="3.6"/>
<text x="1283.9" y="1121.5" font-size="41.5" text-anchor="middle" >0.5 µM</text>
<line x1="1206.6" y1="1127.2" x2="1350" y2="1127.2" stroke="#000" stroke-width="3.6"/>
<text x="1437.7" y="1121.5" font-size="41.5" text-anchor="middle" >1.0 µM</text>
<line x1="1360.3" y1="1127.2" x2="1504.2" y2="1127.2" stroke="#000" stroke-width="3.6"/>
<text transform="translate(84.7,1185.5) scale(0.926,1)" font-size="43.7" font-weight="bold" text-anchor="start" >CCND1</text>
<text transform="translate(89.3,1239.9) scale(0.97,1)" font-size="41" font-weight="bold" text-anchor="start" >β-actin</text>
<defs><filter id="bl" x="-20%" y="-80%" width="140%" height="260%"><feGaussianBlur stdDeviation="1.3"/></filter><filter id="bl2" x="-20%" y="-80%" width="140%" height="260%"><feGaussianBlur stdDeviation="2.2"/></filter><filter id="bl3" x="-30%" y="-600%" width="160%" height="1300%"><feGaussianBlur stdDeviation="1.2"/></filter></defs>
<rect x="266.7" y="1151.3" width="628.5" height="53.8" fill="#f3f3f3"/>
<polygon points="895.2,1150 1200,1147 1515.8,1138.4 1515.8,1187 1200,1195 895.2,1202.4" fill="#ebebeb"/>
<polygon points="1200,1147 1515.8,1138.4 1515.8,1187 1200,1195" fill="#eeecee"/>
<rect x="1508.4" y="1144.1" width="105.3" height="61.4" fill="#efefef"/>
<defs><linearGradient id="g0" x1="0" x2="1" y1="0" y2="0"><stop offset="0" stop-color="rgb(12,12,12)"/><stop offset="1" stop-color="rgb(0,0,0)"/></linearGradient><linearGradient id="g1" x1="0" x2="1" y1="0" y2="0"><stop offset="0" stop-color="rgb(102,102,102)"/><stop offset="1" stop-color="rgb(0,0,0)"/></linearGradient><linearGradient id="g2" x1="0" x2="1" y1="0" y2="0"><stop offset="0" stop-color="rgb(25,25,25)"/><stop offset="1" stop-color="rgb(12,12,12)"/></linearGradient><linearGradient id="g3" x1="0" x2="1" y1="0" y2="0"><stop offset="0" stop-color="rgb(89,89,89)"/><stop offset="1" stop-color="rgb(25,25,25)"/></linearGradient><linearGradient id="g4" x1="0" x2="1" y1="0" y2="0"><stop offset="0" stop-color="rgb(20,20,20)"/><stop offset="1" stop-color="rgb(0,0,0)"/></linearGradient><linearGradient id="g5" x1="0" x2="1" y1="0" y2="0"><stop offset="0" stop-color="rgb(0,0,0)"/><stop offset="1" stop-color="rgb(0,0,0)"/></linearGradient><linearGradient id="g6" x1="0" x2="1" y1="0" y2="0"><stop offset="0" stop-color="rgb(114,114,114)"/><stop offset="1" stop-color="rgb(25,25,25)"/></linearGradient><linearGradient id="g7" x1="0" x2="1" y1="0" y2="0"><stop offset="0" stop-color="rgb(114,114,114)"/><stop offset="1" stop-color="rgb(25,25,25)"/></linearGradient><linearGradient id="g8" x1="0" x2="1" y1="0" y2="0"><stop offset="0" stop-color="rgb(38,38,38)"/><stop offset="1" stop-color="rgb(25,25,25)"/></linearGradient><linearGradient id="g9" x1="0" x2="1" y1="0" y2="0"><stop offset="0" stop-color="rgb(63,63,63)"/><stop offset="1" stop-color="rgb(38,38,38)"/></linearGradient><linearGradient id="g10" x1="0" x2="1" y1="0" y2="0"><stop offset="0" stop-color="rgb(25,25,25)"/><stop offset="1" stop-color="rgb(0,0,0)"/></linearGradient><linearGradient id="g11" x1="0" x2="1" y1="0" y2="0"><stop offset="0" stop-color="rgb(0,0,0)"/><stop offset="1" stop-color="rgb(0,0,0)"/></linearGradient><linearGradient id="g12" x1="0" x2="1" y1="0" y2="0"><stop offset="0" stop-color="rgb(114,114,114)"/><stop offset="1" stop-color="rgb(0,0,0)"/></linearGradient><linearGradient id="g13" x1="0" x2="1" y1="0" y2="0"><stop offset="0" stop-color="rgb(191,191,191)"/><stop offset="1" stop-color="rgb(140,140,140)"/></linearGradient><linearGradient id="g14" x1="0" x2="1" y1="0" y2="0"><stop offset="0" stop-color="rgb(63,63,63)"/><stop offset="1" stop-color="rgb(50,50,50)"/></linearGradient><linearGradient id="g15" x1="0" x2="1" y1="0" y2="0"><stop offset="0" stop-color="rgb(0,0,0)"/><stop offset="1" stop-color="rgb(12,12,12)"/></linearGradient><linearGradient id="g16" x1="0" x2="1" y1="0" y2="0"><stop offset="0" stop-color="rgb(71,71,71)"/><stop offset="1" stop-color="rgb(50,50,50)"/></linearGradient><linearGradient id="g17" x1="0" x2="1" y1="0" y2="0"><stop offset="0" stop-color="rgb(25,25,25)"/><stop offset="1" stop-color="rgb(0,0,0)"/></linearGradient><linearGradient id="g18" x1="0" x2="1" y1="0" y2="0"><stop offset="0" stop-color="rgb(204,204,204)"/><stop offset="1" stop-color="rgb(140,140,140)"/></linearGradient><linearGradient id="g19" x1="0" x2="1" y1="0" y2="0"><stop offset="0" stop-color="rgb(140,140,140)"/><stop offset="1" stop-color="rgb(102,102,102)"/></linearGradient><linearGradient id="g20" x1="0" x2="1" y1="0" y2="0"><stop offset="0" stop-color="rgb(153,153,153)"/><stop offset="1" stop-color="rgb(114,114,114)"/></linearGradient><linearGradient id="g21" x1="0" x2="1" y1="0" y2="0"><stop offset="0" stop-color="rgb(140,140,140)"/><stop offset="1" stop-color="rgb(140,140,140)"/></linearGradient><linearGradient id="g22" x1="0" x2="1" y1="0" y2="0"><stop offset="0" stop-color="rgb(12,12,12)"/><stop offset="1" stop-color="rgb(38,38,38)"/></linearGradient><linearGradient id="g23" x1="0" x2="1" y1="0" y2="0"><stop offset="0" stop-color="rgb(127,127,127)"/><stop offset="1" stop-color="rgb(114,114,114)"/></linearGradient><linearGradient id="g24" x1="0" x2="1" y1="0" y2="0"><stop offset="0" stop-color="rgb(0,0,0)"/><stop offset="1" stop-color="rgb(0,0,0)"/></linearGradient><linearGradient id="g25" x1="0" x2="1" y1="0" y2="0"><stop offset="0" stop-color="rgb(0,0,0)"/><stop offset="1" stop-color="rgb(0,0,0)"/></linearGradient></defs>
<rect x="280.3" y="1172.0" width="44.6" height="14.0" rx="7.0" fill="#000" opacity="0.10" filter="url(#bl2)"/>
<path d="M285.8,1173.5 L318.9,1173.0 A5.0,5.0 0 0 1 318.9,1183.0 L285.8,1182.5 A4.5,4.5 0 0 1 285.8,1173.5 Z" fill="url(#g0)" filter="url(#bl)"/>
<rect x="336.2" y="1171.5" width="34.0" height="15.0" rx="7.5" fill="#000" opacity="0.10" filter="url(#bl2)"/>
<path d="M340.2,1175.0 L363.7,1172.5 A5.5,5.5 0 0 1 363.7,1183.5 L340.2,1181.0 A3.0,3.0 0 0 1 340.2,1175.0 Z" fill="url(#g1)" filter="url(#bl)"/>
<rect x="384.2" y="1172.5" width="36.1" height="13.0" rx="6.5" fill="#000" opacity="0.10" filter="url(#bl2)"/>
<path d="M389.4,1173.8 L414.8,1173.5 A4.5,4.5 0 0 1 414.8,1182.5 L389.4,1182.2 A4.2,4.2 0 0 1 389.4,1173.8 Z" fill="url(#g2)" filter="url(#bl)"/>
<rect x="436.1" y="1173.5" width="34.0" height="12.0" rx="6.0" fill="#000" opacity="0.09" filter="url(#bl2)"/>
<path d="M440.6,1175.0 L465.1,1174.5 A4.0,4.0 0 0 1 465.1,1182.5 L440.6,1182.0 A3.5,3.5 0 0 1 440.6,1175.0 Z" fill="url(#g3)" filter="url(#bl)"/>
<rect x="485.4" y="1172.0" width="36.6" height="14.0" rx="7.0" fill="#000" opacity="0.10" filter="url(#bl2)"/>
<path d="M490.9,1173.5 L516.0,1173.0 A5.0,5.0 0 0 1 516.0,1183.0 L490.9,1182.5 A4.5,4.5 0 0 1 490.9,1173.5 Z" fill="url(#g4)" filter="url(#bl)"/>
<rect x="536.0" y="1170.5" width="38.0" height="15.0" rx="7.5" fill="#000" opacity="0.10" filter="url(#bl2)"/>
<path d="M542.2,1171.8 L567.5,1171.5 A5.5,5.5 0 0 1 567.5,1182.5 L542.2,1182.2 A5.2,5.2 0 0 1 542.2,1171.8 Z" fill="url(#g5)" filter="url(#bl)"/>
<rect x="589.2" y="1173.8" width="35.3" height="12.5" rx="6.2" fill="#000" opacity="0.09" filter="url(#bl2)"/>
<path d="M593.5,1175.8 L619.2,1174.8 A4.2,4.2 0 0 1 619.2,1183.2 L593.5,1182.2 A3.2,3.2 0 0 1 593.5,1175.8 Z" fill="url(#g6)" filter="url(#bl)"/>
<rect x="642.5" y="1175.0" width="35.3" height="12.0" rx="6.0" fill="#000" opacity="0.09" filter="url(#bl2)"/>
<path d="M646.5,1177.0 L672.8,1176.0 A4.0,4.0 0 0 1 672.8,1184.0 L646.5,1183.0 A3.0,3.0 0 0 1 646.5,1177.0 Z" fill="url(#g7)" filter="url(#bl)"/>
<rect x="696.3" y="1174.5" width="35.3" height="13.0" rx="6.5" fill="#000" opacity="0.09" filter="url(#bl2)"/>
<path d="M701.5,1175.8 L726.1,1175.5 A4.5,4.5 0 0 1 726.1,1184.5 L701.5,1184.2 A4.2,4.2 0 0 1 701.5,1175.8 Z" fill="url(#g8)" filter="url(#bl)"/>
<rect x="748.2" y="1174.8" width="35.3" height="12.5" rx="6.2" fill="#000" opacity="0.09" filter="url(#bl2)"/>
<path d="M753.0,1176.2 L778.2,1175.8 A4.2,4.2 0 0 1 778.2,1184.2 L753.0,1183.8 A3.8,3.8 0 0 1 753.0,1176.2 Z" fill="url(#g9)" filter="url(#bl)"/>
<rect x="800.2" y="1173.0" width="35.3" height="14.0" rx="7.0" fill="#000" opacity="0.10" filter="url(#bl2)"/>
<path d="M806.0,1174.2 L829.5,1174.0 A5.0,5.0 0 0 1 829.5,1184.0 L806.0,1183.8 A4.8,4.8 0 0 1 806.0,1174.2 Z" fill="url(#g10)" filter="url(#bl)"/>
<rect x="851.6" y="1171.0" width="35.8" height="15.0" rx="7.5" fill="#000" opacity="0.10" filter="url(#bl2)"/>
<path d="M857.9,1172.2 L880.9,1172.0 A5.5,5.5 0 0 1 880.9,1183.0 L857.9,1182.8 A5.2,5.2 0 0 1 857.9,1172.2 Z" fill="url(#g11)" filter="url(#bl)"/>
<rect x="904.3" y="1170.8" width="35.4" height="14.0" rx="7.0" fill="#000" opacity="0.10" filter="url(#bl2)"/>
<path d="M909.0,1173.0 L933.7,1171.8 A5.0,5.0 0 0 1 933.7,1181.8 L909.0,1180.5 A3.8,3.8 0 0 1 909.0,1173.0 Z" fill="url(#g12)" filter="url(#bl)"/>
<rect x="954.9" y="1172.2" width="33.1" height="10.5" rx="5.2" fill="#000" opacity="0.05" filter="url(#bl2)"/>
<path d="M958.6,1173.8 L983.8,1173.2 A3.2,3.2 0 0 1 983.8,1179.8 L958.6,1179.2 A2.8,2.8 0 0 1 958.6,1173.8 Z" fill="url(#g13)" filter="url(#bl)"/>
<rect x="1004.4" y="1170.8" width="35.3" height="12.5" rx="6.2" fill="#000" opacity="0.08" filter="url(#bl2)"/>
<path d="M1009.4,1172.0 L1034.5,1171.8 A4.2,4.2 0 0 1 1034.5,1180.2 L1009.4,1180.0 A4.0,4.0 0 0 1 1009.4,1172.0 Z" fill="url(#g14)" filter="url(#bl)"/>
<rect x="1056.1" y="1168.8" width="35.4" height="14.5" rx="7.2" fill="#000" opacity="0.10" filter="url(#bl2)"/>
<path d="M1062.3,1169.8 L1085.5,1170.0 A5.0,5.0 0 0 1 1085.5,1180.0 L1062.3,1180.2 A5.2,5.2 0 0 1 1062.3,1169.8 Z" fill="url(#g15)" filter="url(#bl)"/>
<rect x="1106.7" y="1169.0" width="35.4" height="12.5" rx="6.2" fill="#000" opacity="0.08" filter="url(#bl2)"/>
<path d="M1111.5,1170.5 L1136.8,1170.0 A4.2,4.2 0 0 1 1136.8,1178.5 L1111.5,1178.0 A3.8,3.8 0 0 1 1111.5,1170.5 Z" fill="url(#g16)" filter="url(#bl)"/>
<rect x="1158.5" y="1168.0" width="36.5" height="14.0" rx="7.0" fill="#000" opacity="0.10" filter="url(#bl2)"/>
<path d="M1164.0,1169.5 L1189.0,1169.0 A5.0,5.0 0 0 1 1189.0,1179.0 L1164.0,1178.5 A4.5,4.5 0 0 1 1164.0,1169.5 Z" fill="url(#g17)" filter="url(#bl)"/>
<rect x="1212.6" y="1171.0" width="33.0" height="10.5" rx="5.2" fill="#000" opacity="0.05" filter="url(#bl2)"/>
<path d="M1216.3,1172.5 L1241.3,1172.0 A3.2,3.2 0 0 1 1241.3,1178.5 L1216.3,1178.0 A2.8,2.8 0 0 1 1216.3,1172.5 Z" fill="url(#g18)" filter="url(#bl)"/>
<rect x="1264.0" y="1170.8" width="34.2" height="11.5" rx="5.8" fill="#000" opacity="0.06" filter="url(#bl2)"/>
<path d="M1268.2,1172.2 L1293.5,1171.8 A3.8,3.8 0 0 1 1293.5,1179.2 L1268.2,1178.8 A3.2,3.2 0 0 1 1268.2,1172.2 Z" fill="url(#g19)" filter="url(#bl)"/>
<rect x="1317.0" y="1171.8" width="33.8" height="11.5" rx="5.8" fill="#000" opacity="0.06" filter="url(#bl2)"/>
<path d="M1321.2,1173.2 L1346.0,1172.8 A3.8,3.8 0 0 1 1346.0,1180.2 L1321.2,1179.8 A3.2,3.2 0 0 1 1321.2,1173.2 Z" fill="url(#g20)" filter="url(#bl)"/>
<rect x="1369.0" y="1172.5" width="35.5" height="11.0" rx="5.5" fill="#000" opacity="0.05" filter="url(#bl2)"/>
<path d="M1373.5,1173.5 L1400.0,1173.5 A3.5,3.5 0 0 1 1400.0,1180.5 L1373.5,1180.5 A3.5,3.5 0 0 1 1373.5,1173.5 Z" fill="url(#g21)" filter="url(#bl)"/>
<rect x="1421.0" y="1172.0" width="32.8" height="13.0" rx="6.5" fill="#000" opacity="0.10" filter="url(#bl2)"/>
<path d="M1426.5,1173.0 L1448.5,1173.2 A4.2,4.2 0 0 1 1448.5,1181.8 L1426.5,1182.0 A4.5,4.5 0 0 1 1426.5,1173.0 Z" fill="url(#g22)" filter="url(#bl)"/>
<rect x="1470.6" y="1175.2" width="32.8" height="11.0" rx="5.5" fill="#000" opacity="0.06" filter="url(#bl2)"/>
<path d="M1474.8,1176.5 L1498.9,1176.2 A3.5,3.5 0 0 1 1498.9,1183.2 L1474.8,1183.0 A3.2,3.2 0 0 1 1474.8,1176.5 Z" fill="url(#g23)" filter="url(#bl)"/>
<rect x="1515.5" y="1169.5" width="39.9" height="17.0" rx="8.5" fill="#000" opacity="0.10" filter="url(#bl2)"/>
<path d="M1523.0,1170.5 L1547.9,1170.5 A6.5,6.5 0 0 1 1547.9,1183.5 L1523.0,1183.5 A6.5,6.5 0 0 1 1523.0,1170.5 Z" fill="url(#g24)" filter="url(#bl)"/>
<rect x="1566.8" y="1170.0" width="38.9" height="16.0" rx="8.0" fill="#000" opacity="0.10" filter="url(#bl2)"/>
<path d="M1573.8,1171.0 L1598.7,1171.0 A6.0,6.0 0 0 1 1598.7,1183.0 L1573.8,1183.0 A6.0,6.0 0 0 1 1573.8,1171.0 Z" fill="url(#g25)" filter="url(#bl)"/>
<rect x="281.8" y="1229.0" width="49.6" height="8.6" rx="4.3" fill="#000" filter="url(#bl)"/>
<rect x="336.4" y="1229.0" width="35.0" height="8.6" rx="4.3" fill="#000" filter="url(#bl)"/>
<rect x="385.5" y="1229.0" width="36.5" height="8.6" rx="4.3" fill="#000" filter="url(#bl)"/>
<rect x="436.3" y="1229.2" width="36.2" height="8.6" rx="4.3" fill="#000" filter="url(#bl)"/>
<rect x="486.9" y="1229.2" width="37.6" height="8.6" rx="4.3" fill="#000" filter="url(#bl)"/>
<rect x="537.5" y="1228.7" width="39.0" height="8.6" rx="4.3" fill="#000" filter="url(#bl)"/>
<rect x="590.5" y="1229.7" width="37.8" height="8.6" rx="4.3" fill="#000" filter="url(#bl)"/>
<rect x="644.0" y="1230.2" width="37.5" height="8.6" rx="4.3" fill="#000" filter="url(#bl)"/>
<rect x="696.5" y="1229.7" width="36.3" height="8.6" rx="4.3" fill="#000" filter="url(#bl)"/>
<rect x="749.7" y="1229.7" width="36.3" height="8.6" rx="4.3" fill="#000" filter="url(#bl)"/>
<rect x="801.7" y="1228.7" width="36.3" height="8.6" rx="4.3" fill="#000" filter="url(#bl)"/>
<rect x="853.1" y="1227.7" width="36.8" height="8.6" rx="4.3" fill="#000" filter="url(#bl)"/>
<rect x="903.7" y="1227.7" width="33.6" height="8.6" rx="4.3" fill="#000" filter="url(#bl)"/>
<rect x="954.8" y="1227.2" width="32.3" height="8.6" rx="4.3" fill="#000" filter="url(#bl)"/>
<rect x="1003.5" y="1226.7" width="35.0" height="8.6" rx="4.3" fill="#000" filter="url(#bl)"/>
<rect x="1056.0" y="1226.2" width="33.5" height="8.6" rx="4.3" fill="#000" filter="url(#bl)"/>
<rect x="1107.2" y="1223.7" width="34.2" height="8.6" rx="4.3" fill="#000" filter="url(#bl)"/>
<rect x="1158.2" y="1223.0" width="35.9" height="8.6" rx="4.3" fill="#000" filter="url(#bl)"/>
<rect x="1211.8" y="1224.2" width="33.6" height="8.6" rx="4.3" fill="#000" filter="url(#bl)"/>
<rect x="1264.1" y="1224.2" width="33.3" height="8.6" rx="4.3" fill="#000" filter="url(#bl)"/>
<rect x="1315.8" y="1224.7" width="34.5" height="8.6" rx="4.3" fill="#000" filter="url(#bl)"/>
<rect x="1368.8" y="1224.7" width="35.2" height="8.6" rx="4.3" fill="#000" filter="url(#bl)"/>
<rect x="1421.8" y="1225.2" width="32.5" height="8.6" rx="4.3" fill="#000" filter="url(#bl)"/>
<rect x="1471.1" y="1227.0" width="34.2" height="8.6" rx="4.3" fill="#000" filter="url(#bl)"/>
<rect x="1519.7" y="1224.7" width="35.9" height="8.6" rx="4.3" fill="#000" filter="url(#bl)"/>
<rect x="1570.5" y="1225.2" width="35.4" height="8.6" rx="4.3" fill="#000" filter="url(#bl)"/>
<line x1="552.8" y1="1866.2" x2="1228" y2="1866.2" stroke="#e3e1e3" stroke-width="1.5"/>
<line x1="552.8" y1="1729.8" x2="1228" y2="1729.8" stroke="#e3e1e3" stroke-width="1.5"/>
<line x1="552.8" y1="1593.5" x2="1228" y2="1593.5" stroke="#e3e1e3" stroke-width="1.5"/>
<line x1="552.8" y1="1457.1" x2="1228" y2="1457.1" stroke="#e3e1e3" stroke-width="1.5"/>
<line x1="552.8" y1="1320.8" x2="1228" y2="1320.8" stroke="#e3e1e3" stroke-width="1.5"/>
<line x1="588.0" y1="1833.1" x2="588.0" y2="1812.3" stroke="#000" stroke-width="2"/>
<line x1="584.5" y1="1812.3" x2="591.5" y2="1812.3" stroke="#000" stroke-width="2"/>
<rect x="569.9" y="1833.8" width="36.1" height="168.7" fill="#d9d9d9" stroke="#222" stroke-width="1.4"/>
<line x1="663.4" y1="1809.1" x2="663.4" y2="1726.9" stroke="#000" stroke-width="2"/>
<line x1="659.9" y1="1726.9" x2="666.9" y2="1726.9" stroke="#000" stroke-width="2"/>
<rect x="644.7" y="1809.1" width="37.4" height="193.4" fill="#000"/>
<line x1="738.4" y1="1857.0" x2="738.4" y2="1838.3" stroke="#000" stroke-width="2"/>
<line x1="734.9" y1="1838.3" x2="741.9" y2="1838.3" stroke="#000" stroke-width="2"/>
<rect x="720.3" y="1857.7" width="36.1" height="144.8" fill="#d9d9d9" stroke="#222" stroke-width="1.4"/>
<line x1="813.6" y1="1811.2" x2="813.6" y2="1764.9" stroke="#000" stroke-width="2"/>
<line x1="810.1" y1="1764.9" x2="817.1" y2="1764.9" stroke="#000" stroke-width="2"/>
<rect x="794.6" y="1811.2" width="38.0" height="191.3" fill="#000"/>
<line x1="888.8" y1="1965.8" x2="888.8" y2="1946.6" stroke="#000" stroke-width="2"/>
<line x1="885.2" y1="1946.6" x2="892.2" y2="1946.6" stroke="#000" stroke-width="2"/>
<rect x="870.7" y="1966.5" width="36.1" height="36.0" fill="#d9d9d9" stroke="#222" stroke-width="1.4"/>
<line x1="964.2" y1="1927.8" x2="964.2" y2="1901.8" stroke="#000" stroke-width="2"/>
<line x1="960.8" y1="1901.8" x2="967.8" y2="1901.8" stroke="#000" stroke-width="2"/>
<rect x="945.5" y="1927.8" width="37.5" height="74.7" fill="#000"/>
<line x1="1039.2" y1="1983.0" x2="1039.2" y2="1975.2" stroke="#000" stroke-width="2"/>
<line x1="1035.8" y1="1975.2" x2="1042.8" y2="1975.2" stroke="#000" stroke-width="2"/>
<rect x="1021.2" y="1983.7" width="36.1" height="18.8" fill="#d9d9d9" stroke="#222" stroke-width="1.4"/>
<line x1="1114.8" y1="1958.5" x2="1114.8" y2="1936.7" stroke="#000" stroke-width="2"/>
<line x1="1111.2" y1="1936.7" x2="1118.2" y2="1936.7" stroke="#000" stroke-width="2"/>
<rect x="1096.0" y="1958.5" width="37.5" height="44.0" fill="#000"/>
<line x1="1190.2" y1="1640.5" x2="1190.2" y2="1617.0" stroke="#000" stroke-width="2"/>
<line x1="1186.8" y1="1617.0" x2="1193.8" y2="1617.0" stroke="#000" stroke-width="2"/>
<rect x="1172.2" y="1641.2" width="36.1" height="361.3" fill="#fff" stroke="#222" stroke-width="1.4"/>
<line x1="550.8" y1="1320" x2="550.8" y2="2003.9" stroke="#000" stroke-width="2.6"/>
<line x1="545.8" y1="2002.5" x2="1228" y2="2002.5" stroke="#000" stroke-width="2.8"/>
<line x1="545.3" y1="1320.8" x2="550.8" y2="1320.8" stroke="#000" stroke-width="2.4"/>
<text transform="translate(532.5,1333.2) scale(0.783,1)" font-size="35.2" text-anchor="end" >1.0</text>
<line x1="545.3" y1="1457.1" x2="550.8" y2="1457.1" stroke="#000" stroke-width="2.4"/>
<text transform="translate(532.5,1469.5) scale(0.783,1)" font-size="35.2" text-anchor="end" >0.8</text>
<line x1="545.3" y1="1593.5" x2="550.8" y2="1593.5" stroke="#000" stroke-width="2.4"/>
<text transform="translate(532.5,1605.9) scale(0.783,1)" font-size="35.2" text-anchor="end" >0.6</text>
<line x1="545.3" y1="1729.8" x2="550.8" y2="1729.8" stroke="#000" stroke-width="2.4"/>
<text transform="translate(532.5,1742.2) scale(0.783,1)" font-size="35.2" text-anchor="end" >0.4</text>
<line x1="545.3" y1="1866.2" x2="550.8" y2="1866.2" stroke="#000" stroke-width="2.4"/>
<text transform="translate(532.5,1878.6) scale(0.783,1)" font-size="35.2" text-anchor="end" >0.2</text>
<line x1="545.3" y1="2002.5" x2="550.8" y2="2002.5" stroke="#000" stroke-width="2.4"/>
<text transform="translate(532.5,2014.9) scale(0.783,1)" font-size="35.2" text-anchor="end" >0</text>
<text transform="translate(445,1659.5) rotate(-90) scale(0.91,1)" font-size="40" text-anchor="middle">Intensity of&#160; CCND1/β-actin</text>
<line x1="596.8" y1="1333.0" x2="1187" y2="1333.0" stroke="#000" stroke-width="1.8"/>
<text x="859.3" y="1341.4" font-size="47" letter-spacing="3" stroke="#000" stroke-width="0.5">****</text>
<line x1="670.7" y1="1358.9" x2="1187" y2="1358.9" stroke="#000" stroke-width="1.8"/>
<text x="894.6" y="1367.3" font-size="47" letter-spacing="3" stroke="#000" stroke-width="0.5">****</text>
<line x1="744.6" y1="1384.7" x2="1187" y2="1384.7" stroke="#000" stroke-width="1.8"/>
<text x="926.6" y="1393.1" font-size="47" letter-spacing="3" stroke="#000" stroke-width="0.5">****</text>
<line x1="818.5" y1="1410.6" x2="1187" y2="1410.6" stroke="#000" stroke-width="1.8"/>
<text x="975.9" y="1419.0" font-size="47" letter-spacing="3" stroke="#000" stroke-width="0.5">****</text>
<line x1="892.5" y1="1436.4" x2="1187" y2="1436.4" stroke="#000" stroke-width="1.8"/>
<text x="1001.9" y="1444.8" font-size="47" letter-spacing="3" stroke="#000" stroke-width="0.5">****</text>
<line x1="966.4" y1="1462.3" x2="1187" y2="1462.3" stroke="#000" stroke-width="1.8"/>
<text x="1043.0" y="1470.7" font-size="47" letter-spacing="3" stroke="#000" stroke-width="0.5">****</text>
<line x1="1040.3" y1="1488.2" x2="1187" y2="1488.2" stroke="#000" stroke-width="1.8"/>
<text x="1073.2" y="1496.6" font-size="47" letter-spacing="3" stroke="#000" stroke-width="0.5">****</text>
<line x1="1113.2" y1="1514.0" x2="1187" y2="1514.0" stroke="#000" stroke-width="1.8"/>
<text x="1109.7" y="1522.4" font-size="47" letter-spacing="3" stroke="#000" stroke-width="0.5">****</text>
<text transform="translate(601.5,2031.4) rotate(-45)" font-size="40.9" text-anchor="end">BMF-219 0.5 µM</text>
<text transform="translate(674.9,2031.4) rotate(-45)" font-size="40.9" text-anchor="end">BMF-219 1.0 µM</text>
<text transform="translate(745.9,2031.4) rotate(-45)" font-size="40.9" text-anchor="end">VTP50469 0.5 µM</text>
<text transform="translate(833.1,2031.4) rotate(-45)" font-size="40.9" text-anchor="end">VTP50469 1.0 µM</text>
<text transform="translate(912.2,2031.4) rotate(-45)" font-size="40.9" text-anchor="end">MI-463 0.5 µM</text>
<text transform="translate(987.8,2031.4) rotate(-45)" font-size="40.9" text-anchor="end">MI-463 1.0 µM</text>
<text transform="translate(1075.2,2031.4) rotate(-45)" font-size="40.9" text-anchor="end">MI-2 0,5 µM</text>
<text transform="translate(1140.8,2031.4) rotate(-45)" font-size="40.9" text-anchor="end">MI-2 1.0 µM</text>
<text transform="translate(1207.8,2031.4) rotate(-45)" font-size="40.9" text-anchor="end">PBS</text>
</svg>
</body></html>
